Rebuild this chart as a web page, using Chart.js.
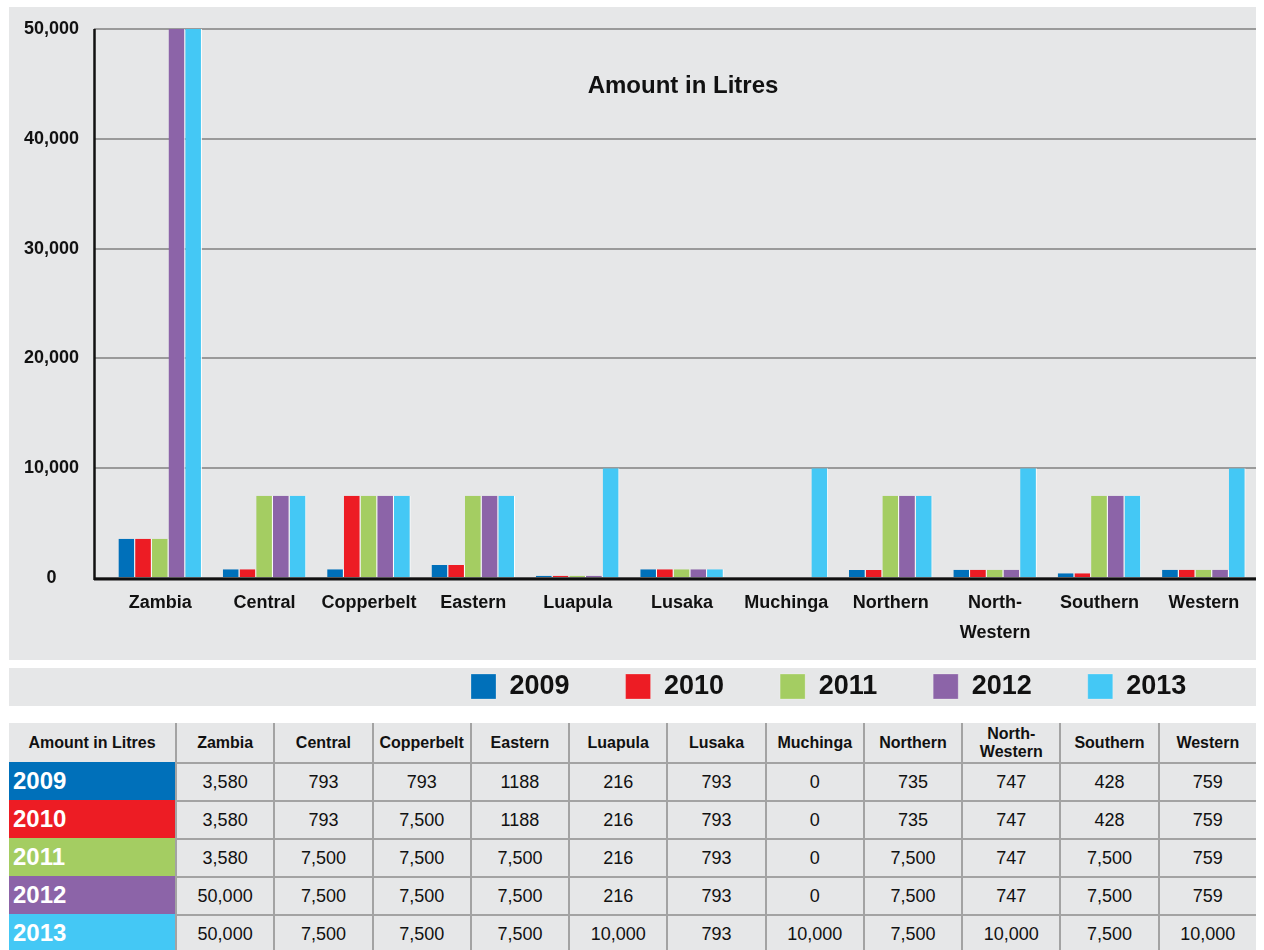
<!DOCTYPE html>
<html>
<head>
<meta charset="utf-8">
<script src="https://cdn.jsdelivr.net/npm/chart.js@4.4.1/dist/chart.umd.min.js"></script>
<style>
  body { margin: 0; background: #fff; overflow: hidden; font-family: 'Liberation Sans', Arial, sans-serif; }
  #wrap { position: absolute; left: 9px; top: 7px; width: 1247px; height: 700px; }
  table { position: absolute; left: 9px; top: 723px; width: 1247px; border-collapse: separate; border-spacing: 0; table-layout: fixed; color: #111; }
  thead th { background: #e6e7e8; font-weight: bold; font-size: 16px; line-height: 18px; height: 39px; padding: 0; text-align: center; }
  thead th + th { border-left: 2px solid #a3a3a3; }
  tbody th { color: #fff; font-weight: bold; font-size: 24px; text-align: left; padding: 0 0 0 4px; height: 38px; }
  tbody td { background: #e6e7e8; border-top: 2px solid #a3a3a3; border-left: 2px solid #a3a3a3; font-size: 18px; text-align: center; padding: 0; height: 36px; }
</style>
</head>
<body>
<div id="wrap"><canvas id="chart1" width="1247" height="700"></canvas></div>
<table id="tbl"></table>
<script>
Chart.defaults.font.family = "'Liberation Sans', Arial, sans-serif"
Chart.defaults.color = '#111'

const chartTitle = 'Amount in Litres'
const regions = ['Zambia', 'Central', 'Copperbelt', 'Eastern', 'Luapula', 'Lusaka', 'Muchinga', 'Northern', ['North-', 'Western'], 'Southern', 'Western']
const years = ['2009', '2010', '2011', '2012', '2013']
const colors = ['#0070ba', '#ed1c24', '#a4cd62', '#8c64a8', '#44c8f5']

const v2009 = [3580, 793, 793, 1188, 216, 793, 0, 735, 747, 428, 759]
const v2010 = [3580, 793, 7500, 1188, 216, 793, 0, 735, 747, 428, 759]
const v2011 = [3580, 7500, 7500, 7500, 216, 793, 0, 7500, 747, 7500, 759]
const v2012 = [50000, 7500, 7500, 7500, 216, 793, 0, 7500, 747, 7500, 759]
const v2013 = [50000, 7500, 7500, 7500, 10000, 793, 10000, 7500, 10000, 7500, 10000]
const series = [v2009, v2010, v2011, v2012, v2013]

// grey panels behind the plot and the legend strip
const panels = {
    id: 'panels',
    beforeDraw(chart) {
        const { ctx, width } = chart
        ctx.save()
        ctx.fillStyle = '#e6e7e8'
        ctx.fillRect(0, 0, width, 653)
        ctx.fillRect(0, 661, width, 38)
        ctx.restore()
        const lg = chart.legend
        lg.top = 610
        lg.left = 406
        lg.right = width + 200
    }
}

// black axis lines + title inside the plot
const axisLines = {
    id: 'axisLines',
    afterDatasetsDraw(chart) {
        const { ctx, chartArea: a } = chart
        ctx.save()
        ctx.strokeStyle = '#111'
        ctx.lineWidth = 3
        ctx.beginPath()
        ctx.moveTo(a.left - 14, a.bottom + 1)
        ctx.lineTo(a.right, a.bottom + 1)
        ctx.stroke()
        ctx.lineWidth = 2.5
        ctx.beginPath()
        ctx.moveTo(a.left - 13.5, a.top)
        ctx.lineTo(a.left - 13.5, a.bottom + 2)
        ctx.stroke()
        ctx.fillStyle = '#111'
        ctx.font = "bold 24px 'Liberation Sans', Arial, sans-serif"
        ctx.textAlign = 'center'
        ctx.textBaseline = 'middle'
        ctx.fillText(chartTitle, (a.left + a.right) / 2 + 1, a.top + 57)
        ctx.restore()
    }
}

const data = {
    labels: regions,
    datasets: years.map((y, i) => ({
        label: y,
        data: series[i],
        backgroundColor: colors[i],
        borderColor: '#fff',
        borderWidth: { right: 1, left: 0, top: 0, bottom: 0 },
        borderSkipped: false,
        categoryPercentage: 0.8,
        barPercentage: 1
    }))
}

const options = {
    responsive: false,
    animation: false,
    layout: { padding: { top: 22 } },
    plugins: {
        tooltip: { enabled: false },
        legend: {
            position: 'bottom',
            align: 'start',
            maxHeight: 46,
            labels: {
                boxWidth: 25,
                boxHeight: 25,
                padding: 56,
                color: '#111',
                font: { size: 27, weight: 'bold' }
            }
        }
    },
    scales: {
        x: {
            afterFit(s) { s.height = 83 },
            grid: { display: false },
            border: { display: false },
            ticks: {
                autoSkip: false,
                maxRotation: 0,
                padding: 2,
                color: '#111',
                font: { size: 18, weight: 'bold', lineHeight: 30 / 18 }
            }
        },
        y: {
            afterFit(s) {
                s.width = 99
                s.paddingTop = 0
            },
            min: 0,
            max: 50000,
            grid: { color: '#9a9a9a', lineWidth: 2, tickLength: 14 },
            border: { display: false },
            ticks: {
                stepSize: 10000,
                padding: 15,
                crossAlign: 'center',
                color: '#111',
                font: { size: 18, weight: 'bold' },
                callback: v => v.toLocaleString('en-US')
            }
        }
    }
}

new Chart('chart1', { type: 'bar', data, options, plugins: [panels, axisLines] })

// table under the chart, from the same arrays
// (source table writes values under 2,000 without a thousands comma)
const fmt = v => v < 2000 ? String(v) : v.toLocaleString('en-US')
let html = '<colgroup><col style="width:166px">' + regions.map(() => '<col>').join('') + '</colgroup>'
html += '<thead><tr><th>' + chartTitle + '</th>' +
    regions.map(r => '<th>' + (Array.isArray(r) ? r.join('<br>') : r) + '</th>').join('') + '</tr></thead><tbody>'
years.forEach((y, i) => {
    html += '<tr><th style="background:' + colors[i] + '">' + y + '</th>' +
        series[i].map(v => '<td>' + fmt(v) + '</td>').join('') + '</tr>'
})
html += '</tbody>'
document.getElementById('tbl').innerHTML = html
</script>
</body>
</html>
